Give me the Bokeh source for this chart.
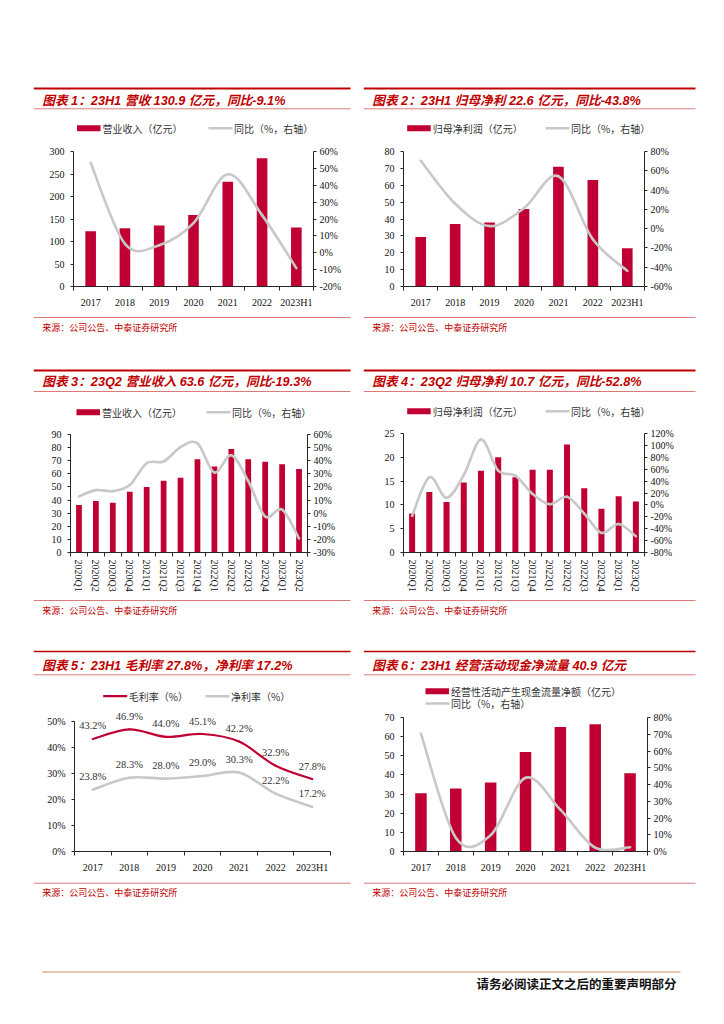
from bokeh.plotting import figure
from bokeh.layouts import column, row
from bokeh.models import Range1d, LinearAxis, FixedTicker, Spacer, ColumnDataSource
from bokeh.core.properties import value
from bokeh.embed import file_html
from bokeh.resources import INLINE

# ---------------- data ----------------
years = ["2017", "2018", "2019", "2020", "2021", "2022", "2023H1"]
quarters = ["2020Q1", "2020Q2", "2020Q3", "2020Q4", "2021Q1", "2021Q2", "2021Q3",
            "2021Q4", "2022Q1", "2022Q2", "2022Q3", "2022Q4", "2023Q1", "2023Q2"]

rev_annual = [123.0, 129.5, 135.3, 159.0, 233.0, 284.9, 130.9]
rev_annual_yoy = [53.3, 5.3, 4.5, 17.5, 46.5, 22.3, -9.1]

np_annual = [29.4, 37.0, 38.0, 46.0, 71.0, 63.1, 22.6]
np_annual_yoy = [70.5, 25.8, 2.7, 21.1, 54.3, -11.1, -43.8]

rev_q = [36.2, 39.3, 38.0, 46.4, 50.0, 54.8, 57.1, 71.1, 65.5, 79.0, 71.1, 69.3, 67.3, 63.6]
rev_q_yoy = [12.8, 17.6, 16.8, 21.4, 38.1, 39.4, 50.3, 53.2, 31.0, 44.2, 24.5, -2.5, 2.7, -19.3]

np_q = [8.2, 12.7, 10.6, 14.7, 17.2, 20.0, 15.8, 17.4, 17.4, 22.7, 13.5, 9.2, 11.8, 10.7]
np_q_yoy = [-18.5, 46.5, 11.8, 50.0, 109.8, 57.5, 49.1, 18.4, 1.2, 13.5, -14.6, -47.1, -32.2, -52.8]

gross_margin = [43.2, 46.9, 44.0, 45.1, 42.2, 32.9, 27.8]
net_margin = [23.8, 28.3, 28.0, 29.0, 30.3, 22.2, 17.2]

ocf = [30.4, 32.9, 36.1, 52.0, 65.0, 66.5, 40.9]
ocf_yoy = [70.4, 8.2, 9.7, 44.0, 25.0, 2.3, 2.5]

titles = [
    "图表 1：23H1 营收 130.9 亿元，同比-9.1%",
    "图表 2：23H1 归母净利 22.6 亿元，同比-43.8%",
    "图表 3：23Q2 营业收入 63.6 亿元，同比-19.3%",
    "图表 4：23Q2 归母净利 10.7 亿元，同比-52.8%",
    "图表 5：23H1 毛利率 27.8%，净利率 17.2%",
    "图表 6：23H1 经营活动现金净流量 40.9 亿元",
]
source_text = "来源：公司公告、中泰证券研究所"
footer_text = "请务必阅读正文之后的重要声明部分"

# ---------------- style ----------------
CJK = "Noto Sans CJK SC"
SERIF = "Liberation Serif"
TITLE_FONT = "Liberation Sans, Noto Sans CJK SC"
RED = "#C00000"
BAR = "#C00032"
GRAY = "#C8C8C8"
THIN = "#DC7A7A"
AX = "#262626"


def deco_fig(w, h):
    p = figure(width=w, height=h, x_range=Range1d(0, w), y_range=Range1d(h, 0),
               output_backend="svg", toolbar_location=None, min_border=0,
               min_border_left=0, min_border_right=0, min_border_top=0, min_border_bottom=0,
               x_axis_location=None, y_axis_location=None, frame_align=False)
    p.grid.visible = False
    p.outline_line_color = None
    return p


def header(w, h, title, tx, ty, lx0, lx1, top_y, top_w, thin_y, legend):
    p = deco_fig(w, h)
    p.segment(x0=[lx0], y0=[top_y], x1=[lx1], y1=[top_y], line_color=RED, line_width=top_w)
    p.segment(x0=[lx0], y0=[thin_y], x1=[lx1], y1=[thin_y], line_color=THIN, line_width=1)
    p.text(x=[tx], y=[ty], text=[title], text_font=value(TITLE_FONT), text_font_size="12.7px",
           text_font_style="bold italic", text_color=RED, text_baseline="middle")
    for kind, x0, y, label in legend:
        if kind == "bar":
            p.quad(left=[x0], right=[x0 + 23.5], top=[y - 3], bottom=[y + 3],
                   fill_color=BAR, line_color=None)
        elif kind == "red":
            p.segment(x0=[x0], y0=[y], x1=[x0 + 24], y1=[y], line_color=BAR, line_width=2.2)
        else:
            p.segment(x0=[x0], y0=[y], x1=[x0 + 24], y1=[y], line_color=GRAY, line_width=2.6)
        p.text(x=[x0 + 25.5], y=[y], text=[label], text_font=value(CJK), text_font_size="10px",
               text_color="#333333", text_baseline="middle")
    return p


def footer(w, h, lx0, lx1, ly, tx, ty):
    p = deco_fig(w, h)
    p.segment(x0=[lx0], y0=[ly], x1=[lx1], y1=[ly], line_color=THIN, line_width=1)
    p.text(x=[tx], y=[ty], text=[source_text], text_font=value(CJK), text_font_size="9px",
           text_color=RED, text_baseline="middle")
    return p


def smooth(xs, ys):
    n = len(xs)
    d = dict(x0=[], y0=[], x1=[], y1=[], cx0=[], cy0=[], cx1=[], cy1=[])
    for i in range(n - 1):
        a = i - 1 if i > 0 else i
        b = i + 2 if i + 2 < n else i + 1
        d["x0"].append(xs[i]); d["y0"].append(ys[i])
        d["x1"].append(xs[i + 1]); d["y1"].append(ys[i + 1])
        d["cx0"].append(xs[i] + (xs[i + 1] - xs[a]) / 6.0)
        d["cy0"].append(ys[i] + (ys[i + 1] - ys[a]) / 6.0)
        d["cx1"].append(xs[i + 1] - (xs[b] - xs[i]) / 6.0)
        d["cy1"].append(ys[i + 1] - (ys[b] - ys[i]) / 6.0)
    return ColumnDataSource(d)


def style_axis(ax, size="10px"):
    ax.axis_line_color = AX
    ax.major_tick_line_color = AX
    ax.minor_tick_line_color = AX
    ax.major_label_text_font = SERIF
    ax.major_label_text_font_size = size
    ax.major_label_text_color = "#111111"


def chart(w, h, bl, br, bt, bb, cats, left_rng, left_step, right_rng=None, right_step=None,
          vertical=False, left_pct=False, y_top=None):
    n = len(cats)
    top = y_top if y_top is not None else left_rng[1]
    p = figure(width=w, height=h, x_range=Range1d(-0.5, n - 0.5),
               y_range=Range1d(left_rng[0], top), output_backend="svg", toolbar_location=None,
               min_border_left=bl, min_border_right=br, min_border_top=bt, min_border_bottom=bb,
               frame_align=False)
    p.grid.visible = False
    p.outline_line_color = None
    xa = p.xaxis[0]
    xa.ticker = FixedTicker(ticks=list(range(n)), minor_ticks=[i - 0.5 for i in range(n + 1)])
    xa.major_label_overrides = {i: c for i, c in enumerate(cats)}
    xa.major_tick_out = 0
    xa.major_tick_in = 0
    xa.minor_tick_out = 4
    xa.minor_tick_in = 0
    style_axis(xa)
    if vertical:
        xa.major_label_orientation = "vertical"
        xa.major_label_standoff = 3
    else:
        xa.major_label_standoff = 6
    ya = p.yaxis[0]
    lt = list(range(left_rng[0], left_rng[1] + 1, left_step))
    ya.ticker = FixedTicker(ticks=lt)
    ya.bounds = (left_rng[0], left_rng[1])
    if left_pct:
        ya.major_label_overrides = {t: f"{t}%" for t in lt}
    ya.major_tick_out = 3
    ya.major_tick_in = 0
    ya.minor_tick_out = 0
    ya.major_label_standoff = 6
    style_axis(ya)
    if right_rng is not None:
        p.extra_y_ranges = {"r": Range1d(*right_rng)}
        rt = list(range(right_rng[0], right_rng[1] + 1, right_step))
        ra = LinearAxis(y_range_name="r", ticker=FixedTicker(ticks=rt),
                        major_label_overrides={t: f"{t}%" for t in rt})
        ra.major_tick_out = 3
        ra.major_tick_in = 0
        ra.minor_tick_out = 0
        ra.major_label_standoff = 3
        style_axis(ra)
        p.add_layout(ra, "right")
    return p


def bar_line_panel(p, vals, yoy, bw):
    xs = list(range(len(vals)))
    p.vbar(x=xs, top=vals, width=bw, bottom=0, fill_color=BAR, line_color=None)
    src = smooth(xs, yoy)
    p.bezier(x0="x0", y0="y0", x1="x1", y1="y1", cx0="cx0", cy0="cy0", cx1="cx1", cy1="cy1",
             source=src, line_color=GRAY, line_width=2.6, line_cap="round", y_range_name="r")


LW, RW = 325, 342

# ---------- row 1 ----------
h1 = header(LW, 60, titles[0], 11.7, 20, 3.3, 320, 8, 2, 28.3,
            [("bar", 46.5, 47.7, "营业收入（亿元）"), ("line", 178, 47.7, "同比（%，右轴）")])
c1 = chart(LW, 170, 43, 42, 11, 20, years, (0, 300), 50, (-20, 60), 10)
bar_line_panel(c1, rev_annual, rev_annual_yoy, 0.31)
f1 = footer(LW, 30, 3.3, 320, 7, 11.7, 17)

h2 = header(RW, 60, titles[1], 13.7, 20, 5.3, 337, 8, 2, 28.3,
            [("bar", 48.7, 47.7, "归母净利润（亿元）"), ("line", 187, 47.7, "同比（%，右轴）")])
c2 = chart(RW, 170, 45, 56, 11, 20, years, (0, 80), 10, (-60, 80), 20)
bar_line_panel(c2, np_annual, np_annual_yoy, 0.31)
f2 = footer(RW, 30, 5.3, 337, 7, 13.7, 17)

# ---------- row 2 ----------
h3 = header(LW, 60, titles[2], 11.7, 19.7, 3.3, 320, 8, 2, 29,
            [("bar", 46, 49.7, "营业收入（亿元）"), ("line", 176, 49.7, "同比（%，右轴）")])
c3 = chart(LW, 175, 40, 48, 12, 45, quarters, (0, 90), 10, (-30, 60), 10, vertical=True)
bar_line_panel(c3, rev_q, rev_q_yoy, 0.34)
f3 = footer(LW, 23, 3.3, 320, 3, 11.7, 12.5)

h4 = header(RW, 60, titles[3], 13.7, 19.7, 5.3, 337, 8, 2, 29,
            [("bar", 48.7, 48.7, "归母净利润（亿元）"), ("line", 187, 48.7, "同比（%，右轴）")])
c4 = chart(RW, 175, 45, 56, 11, 45, quarters, (0, 25), 5, (-80, 120), 20, vertical=True)
bar_line_panel(c4, np_q, np_q_yoy, 0.35)
f4 = footer(RW, 23, 5.3, 337, 3, 13.7, 12.5)

# ---------- row 3 ----------
h5 = header(LW, 64, titles[4], 11.7, 22.7, 3.3, 320, 8, 1.5, 31.3,
            [("red", 72.7, 52.7, "毛利率（%）"), ("line", 175, 52.7, "净利率（%）")])
c5 = chart(LW, 168, 44, 25, 1, 22, years, (0, 50), 10, left_pct=True, y_top=54.9)
xs5 = list(range(len(years)))
c5.bezier(x0="x0", y0="y0", x1="x1", y1="y1", cx0="cx0", cy0="cy0", cx1="cx1", cy1="cy1",
          source=smooth(xs5, net_margin), line_color=GRAY, line_width=2.6, line_cap="round")
c5.bezier(x0="x0", y0="y0", x1="x1", y1="y1", cx0="cx0", cy0="cy0", cx1="cx1", cy1="cy1",
          source=smooth(xs5, gross_margin), line_color=BAR, line_width=2.2, line_cap="round")
c5.text(x=xs5, y=gross_margin, text=[f"{v:.1f}%" for v in gross_margin], y_offset=-13,
        text_align="center", text_baseline="middle", text_font=value(SERIF),
        text_font_size="10.5px", text_color="#333333")
c5.text(x=xs5, y=net_margin, text=[f"{v:.1f}%" for v in net_margin], y_offset=-13,
        text_align="center", text_baseline="middle", text_font=value(SERIF),
        text_font_size="10.5px", text_color="#333333")
f5 = footer(LW, 25, 3.3, 320, 7.7, 11.7, 17.3)

h6 = header(RW, 68, titles[5], 13.7, 22.7, 5.3, 337, 8, 1.5, 31.3,
            [("bar", 67, 47.7, "经营性活动产生现金流量净额（亿元）"), ("line", 67, 60, "同比（%，右轴）")])
c6 = chart(RW, 164, 45, 53, 6, 19, years, (0, 70), 10, (0, 80), 10)
bar_line_panel(c6, ocf, ocf_yoy, 0.33)
f6 = footer(RW, 25, 5.3, 337, 7.7, 13.7, 17.3)

# ---------- page footer ----------
pf = deco_fig(708, 32)
pf.segment(x0=[42], y0=[7.6], x1=[680], y1=[7.6], line_color="#E8C4AE", line_width=2)
pf.text(x=[676], y=[18.5], text=[footer_text], text_font=value(CJK), text_font_size="12.5px",
        text_font_style="bold", text_color="#111111", text_align="right", text_baseline="middle")

layout = column(
    Spacer(width=708, height=80),
    row(Spacer(width=30, height=10), column(h1, c1, f1), Spacer(width=3, height=10), column(h2, c2, f2)),
    Spacer(width=708, height=22),
    row(Spacer(width=30, height=10), column(h3, c3, f3), Spacer(width=3, height=10), column(h4, c4, f4)),
    Spacer(width=708, height=23),
    row(Spacer(width=30, height=10), column(h5, c5, f5), Spacer(width=3, height=10), column(h6, c6, f6)),
    Spacer(width=708, height=64),
    pf,
)

open("out.html", "w").write(file_html(layout, INLINE))
